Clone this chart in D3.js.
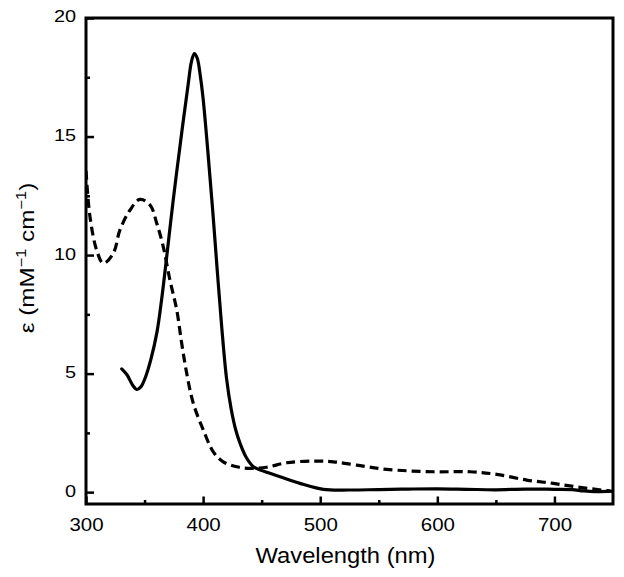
<!DOCTYPE html>
<html>
<head>
<meta charset="utf-8">
<script src="https://cdn.jsdelivr.net/npm/d3@7"></script>
<style>
  html, body { margin: 0; padding: 0; background: #fff; }
  svg { display: block; }
  text { font-family: "Liberation Sans", Arial, Helvetica, sans-serif; fill: #000; }
</style>
</head>
<body>
<svg id="chart" width="624" height="577"></svg>
<script>
// ---- data ----
const solidWavelength = [330.5, 335, 340, 343.5, 347, 351, 355.5, 360.6, 364.5, 368.1, 374.5, 381.7, 387.4, 390, 392.5, 395, 397.5, 400, 404, 408, 412, 416, 420, 424, 428, 432, 437, 443, 452, 465.7, 482.7, 502.6, 525, 550, 575, 600, 625, 650, 675, 700, 715, 725, 735, 750];
const solidEpsilon    = [5.2, 4.95, 4.5, 4.33, 4.45, 4.88, 5.62, 6.75, 8.1, 9.58, 12.33, 15.15, 17.26, 18.15, 18.5, 18.3, 17.6, 16.6, 14.4, 12.0, 9.4, 6.9, 4.8, 3.5, 2.6, 2.0, 1.45, 1.07, 0.88, 0.65, 0.37, 0.12, 0.09, 0.11, 0.13, 0.14, 0.12, 0.1, 0.13, 0.12, 0.11, 0.05, 0.02, 0.04];

const dashedWavelength = [300, 303.4, 309.1, 314.8, 323.3, 329, 337.6, 346.1, 354.7, 360.4, 366, 371.7, 377.5, 381.7, 386, 391.6, 400.2, 408.7, 417.2, 428.7, 440, 454.3, 471.4, 494.1, 511.2, 531.2, 556.8, 596.6, 627.9, 650.7, 676.3, 699, 721.8, 747.5];
const dashedEpsilon    = [13.55, 11.62, 10.21, 9.65, 10.07, 11.06, 11.9, 12.35, 12.11, 11.34, 10.35, 8.94, 7.68, 6.28, 5.01, 3.75, 2.62, 1.7, 1.28, 1.07, 1.0, 1.05, 1.24, 1.31, 1.28, 1.14, 0.96, 0.86, 0.86, 0.75, 0.51, 0.37, 0.2, 0.05];

const xMajorTicks = [300, 400, 500, 600, 700];
const xMinorTicks = [350, 450, 550, 650];
const yMajorTicks = [0, 5, 10, 15, 20];
const yMinorTicks = [2.5, 7.5, 12.5, 17.5];

const xTitle = "Wavelength (nm)";

// ---- layout ----
const svg = d3.select("#chart");
const L = 86, R = 613, T = 18, B = 504;

const x = d3.scaleLinear().domain([300, 750]).range([L, R]);
const y = d3.scaleLinear().domain([-0.5, 20]).range([B, T]);

const sx = 1.17;

// x axis (ticks inward)
const gx = svg.append("g").attr("transform", `translate(0,${B})`)
  .call(d3.axisBottom(x).tickValues(xMajorTicks).tickSize(-7.5).tickFormat(d3.format("d")));
gx.select(".domain").remove();
gx.selectAll(".tick line").attr("stroke", "#000").attr("stroke-width", 2.5);
gx.selectAll(".tick text")
  .attr("y", 27).attr("dy", null)
  .attr("font-size", 17.5)
  .attr("text-anchor", "middle")
  .attr("transform", `scale(${sx},1)`);

const gxm = svg.append("g").attr("transform", `translate(0,${B})`)
  .call(d3.axisBottom(x).tickValues(xMinorTicks).tickSize(-4).tickFormat(""));
gxm.select(".domain").remove();
gxm.selectAll(".tick line").attr("stroke", "#000").attr("stroke-width", 2.5);

// y axis (ticks inward)
const gy = svg.append("g").attr("transform", `translate(${L},0)`)
  .call(d3.axisLeft(y).tickValues(yMajorTicks).tickSize(-8).tickFormat(d3.format("d")));
gy.select(".domain").remove();
gy.selectAll(".tick line").attr("stroke", "#000").attr("stroke-width", 2.5);
gy.selectAll(".tick text")
  .attr("x", -10 / sx).attr("dy", "0.32em")
  .attr("y", -1.5)
  .attr("font-size", 17)
  .attr("text-anchor", "end")
  .attr("transform", `scale(${sx},1)`);

const gym = svg.append("g").attr("transform", `translate(${L},0)`)
  .call(d3.axisLeft(y).tickValues(yMinorTicks).tickSize(-4).tickFormat(""));
gym.select(".domain").remove();
gym.selectAll(".tick line").attr("stroke", "#000").attr("stroke-width", 2.5);

// curves
svg.append("clipPath").attr("id", "clip")
  .append("rect").attr("x", L).attr("y", T).attr("width", R - L).attr("height", B - T);

const line = d3.line()
  .x(d => x(d[0]))
  .y(d => y(d[1]))
  .curve(d3.curveCatmullRom.alpha(0.5));

const solidData = solidWavelength.map((w, i) => [w, solidEpsilon[i]]);
const dashedData = dashedWavelength.map((w, i) => [w, dashedEpsilon[i]]);

const plot = svg.append("g").attr("clip-path", "url(#clip)");
plot.append("path").datum(dashedData)
  .attr("d", line).attr("fill", "none").attr("stroke", "#000")
  .attr("stroke-width", 3.2).attr("stroke-dasharray", "9,5");
plot.append("path").datum(solidData)
  .attr("d", line).attr("fill", "none").attr("stroke", "#000")
  .attr("stroke-width", 3.2).attr("stroke-linejoin", "round").attr("stroke-linecap", "round");

// frame
svg.append("rect").attr("x", L).attr("y", T).attr("width", R - L).attr("height", B - T)
  .attr("fill", "none").attr("stroke", "#000").attr("stroke-width", 3);

// axis titles
svg.append("text")
  .attr("transform", `translate(${(L + R) / 2 - 4},562.5) scale(1.08,1)`)
  .attr("text-anchor", "middle").attr("font-size", 22)
  .text(xTitle);

const yt = svg.append("text")
  .attr("transform", `translate(34,258) rotate(-90) scale(1.18,1)`)
  .attr("text-anchor", "middle").attr("font-size", 20.5);
yt.append("tspan").text("ε (mM");
yt.append("tspan").attr("font-size", 14).attr("dy", -8).text("−1");
yt.append("tspan").attr("dy", 8).text(" cm");
yt.append("tspan").attr("font-size", 14).attr("dy", -8).text("−1");
yt.append("tspan").attr("dy", 8).text(")");
</script>
</body>
</html>
